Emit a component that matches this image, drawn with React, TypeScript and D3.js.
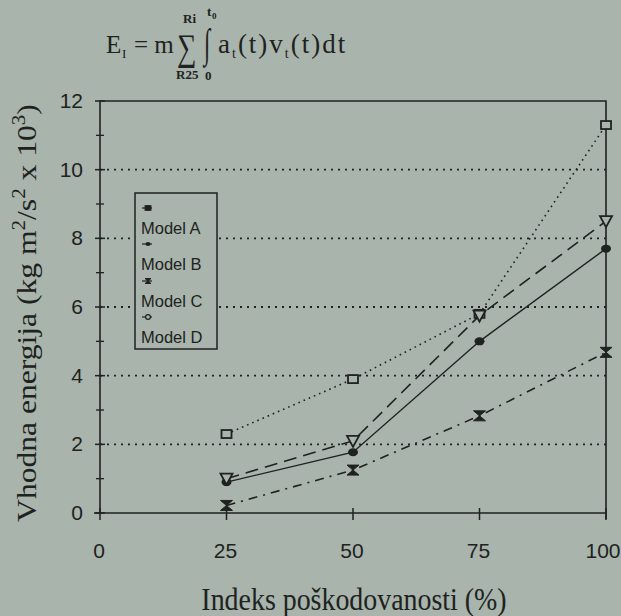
import React from "react";
import * as d3 from "d3";

const xTicks = [0, 25, 50, 75, 100];
const yTicks = [0, 2, 4, 6, 8, 10, 12];
const gridValues = [2, 4, 6, 8, 10];
const damage = [25, 50, 75, 100];
const modelA = [2.3, 3.9, 5.8, 11.3];
const modelB = [0.9, 1.77, 5.0, 7.7];
const modelC = [0.22, 1.25, 2.83, 4.68];
const modelD = [1.0, 2.1, 5.75, 8.5];
const legendLabels = ["Model A", "Model B", "Model C", "Model D"];

const W = 621;
const H = 616;
const BG = "#a8b4ac";
const INK = "#1e2220";
const SERIF = "'Liberation Serif', 'Times New Roman', serif";

const x = d3.scaleLinear().domain([0, 100]).range([100, 606]);
const y = d3.scaleLinear().domain([0, 12]).range([513, 101]);

type Series = { name: string; values: number[]; dash: string; marker: string; width: number };
const series: Series[] = [
  { name: legendLabels[0], values: modelA, dash: "1.6 4", marker: "square", width: 1.6 },
  { name: legendLabels[1], values: modelB, dash: "", marker: "circle", width: 1.4 },
  { name: legendLabels[2], values: modelC, dash: "9 6 2 6", marker: "bowtie", width: 1.6 },
  { name: legendLabels[3], values: modelD, dash: "13 7", marker: "triangle", width: 1.6 },
];

function Marker({ kind, cx, cy, s = 1 }: { kind: string; cx: number; cy: number; s?: number }) {
  if (kind === "square")
    return <rect x={cx - 5 * s} y={cy - 4 * s} width={10 * s} height={8 * s} fill={s < 1 ? INK : BG} stroke={INK} strokeWidth={1.8} />;
  if (kind === "circle") return <ellipse cx={cx} cy={cy} rx={5 * s} ry={4 * s} fill={INK} />;
  if (kind === "triangle")
    return s < 1 ? (
      <circle cx={cx} cy={cy} r={2.4} fill={BG} stroke={INK} strokeWidth={1.2} />
    ) : (
      <path
        d={`M${cx - 6 * s},${cy - 5 * s}L${cx + 6 * s},${cy - 5 * s}L${cx},${cy + 6 * s}Z`}
        fill={BG}
        stroke={INK}
        strokeWidth={1.8}
      />
    );
  // hourglass-shaped marker
  return (
    <path
      d={`M${cx - 6 * s},${cy - 5 * s}L${cx + 6 * s},${cy - 5 * s}L${cx},${cy}L${cx + 6 * s},${cy + 5 * s}L${cx - 6 * s},${cy + 5 * s}L${cx},${cy}Z`}
      fill={INK}
      stroke={INK}
      strokeWidth={1}
    />
  );
}

export default function App() {
  const line = d3
    .line<number>()
    .x((_, i) => x(damage[i]))
    .y((d) => y(d));

  const minorY = d3.range(1, 12, 2);
  const legendRows = [208, 244, 281, 317];

  return (
    <svg
      width={W}
      height={H}
      style={{ position: "absolute", left: 0, top: 0, background: BG }}
      fontFamily="'Liberation Sans', Arial, sans-serif"
    >
      <rect width={W} height={H} fill={BG} />

      {/* formula */}
      <g fontFamily={SERIF} fill={INK}>
        <text x={106} y={53} fontSize={25}>E</text>
        <text x={122} y={58} fontSize={13}>I</text>
        <text x={134} y={53} fontSize={25}>= m</text>
        <text transform="translate(177,60) scale(0.8,1.1)" fontSize={34}>∑</text>
        <text x={183} y={23} fontSize={13} fontWeight="bold">Ri</text>
        <text x={176} y={79} fontSize={13} fontWeight="bold">R25</text>
        <text transform="translate(204,57) scale(0.75,1.35)" fontSize={30}>∫</text>
        <text x={207} y={16} fontSize={13} fontWeight="bold">t</text>
        <text x={212} y={19} fontSize={9} fontWeight="bold">0</text>
        <text x={205} y={80} fontSize={13} fontWeight="bold">0</text>
        <text x={218} y={53} fontSize={27} letterSpacing={2}>
          a<tspan dy={5} fontSize={14}>t</tspan>
          <tspan dy={-5}>(t)v</tspan>
          <tspan dy={5} fontSize={14}>t</tspan>
          <tspan dy={-5}>(t)dt</tspan>
        </text>
      </g>

      {/* grid */}
      {gridValues.map((v) => (
        <line key={v} x1={x(0)} x2={x(100)} y1={y(v)} y2={y(v)} stroke={INK} strokeWidth={1.8} strokeDasharray="2 5" />
      ))}

      {/* frame and axes */}
      <path d={`M${x(0)},${y(0)}L${x(0)},${y(12)}L${x(100)},${y(12)}L${x(100)},${y(0) + 6}`} fill="none" stroke={INK} strokeWidth={1.6} />
      <line x1={x(0) - 6} x2={x(100)} y1={y(0)} y2={y(0)} stroke={INK} strokeWidth={1.6} />

      {yTicks.map((t) => (
        <g key={t}>
          <line x1={x(0) - 5} x2={x(0) + 5} y1={y(t)} y2={y(t)} stroke={INK} strokeWidth={1.5} />
          <text x={83} y={y(t) + 7} fontSize={21} textAnchor="end" fill={INK}>{t}</text>
        </g>
      ))}
      {minorY.map((t) => (
        <line key={t} x1={x(0) - 4} x2={x(0) + 4} y1={y(t)} y2={y(t)} stroke={INK} strokeWidth={1.3} />
      ))}
      {xTicks.map((t) => (
        <g key={t}>
          <line x1={x(t)} x2={x(t)} y1={y(0) - 5} y2={y(0) + 7} stroke={INK} strokeWidth={1.5} />
          <text x={t === 100 ? 603 : x(t) - 1} y={558} fontSize={21} textAnchor="middle" fill={INK}>{t}</text>
        </g>
      ))}

      {/* series */}
      {series.map((s) => (
        <g key={s.name}>
          <path d={line(s.values) ?? ""} fill="none" stroke={INK} strokeWidth={s.width} strokeDasharray={s.dash} />
          {s.values.map((v, i) => (
            <Marker key={i} kind={s.marker} cx={x(damage[i])} cy={y(v)} />
          ))}
        </g>
      ))}

      {/* legend */}
      <rect x={135} y={193} width={82} height={156} fill={BG} stroke={INK} strokeWidth={1.5} />
      {series.map((s, i) => (
        <g key={s.name}>
          <line x1={142} x2={152} y1={legendRows[i]} y2={legendRows[i]} stroke={INK} strokeWidth={1.2} />
          <Marker kind={s.marker} cx={148} cy={legendRows[i]} s={0.5} />
          <text x={141} y={legendRows[i] + 26} fontSize={16.5} fill={INK}>{s.name}</text>
        </g>
      ))}

      {/* axis titles */}
      <text
        transform={`translate(36,313) rotate(-90) scale(1.17,1)`}
        textAnchor="middle"
        fontFamily={SERIF}
        fontSize={27}
        fill={INK}
      >
        Vhodna energija (kg m<tspan dy={-11} fontSize={18}>2</tspan>
        <tspan dy={11}>/s</tspan>
        <tspan dy={-11} fontSize={18}>2</tspan>
        <tspan dy={11}> x 10</tspan>
        <tspan dy={-11} fontSize={18}>3</tspan>
        <tspan dy={11}>)</tspan>
      </text>
      <text
        transform="translate(354,610) scale(0.9,1)"
        textAnchor="middle"
        fontFamily={SERIF}
        fontSize={31}
        fill={INK}
      >
        Indeks poškodovanosti (%)
      </text>
    </svg>
  );
}
